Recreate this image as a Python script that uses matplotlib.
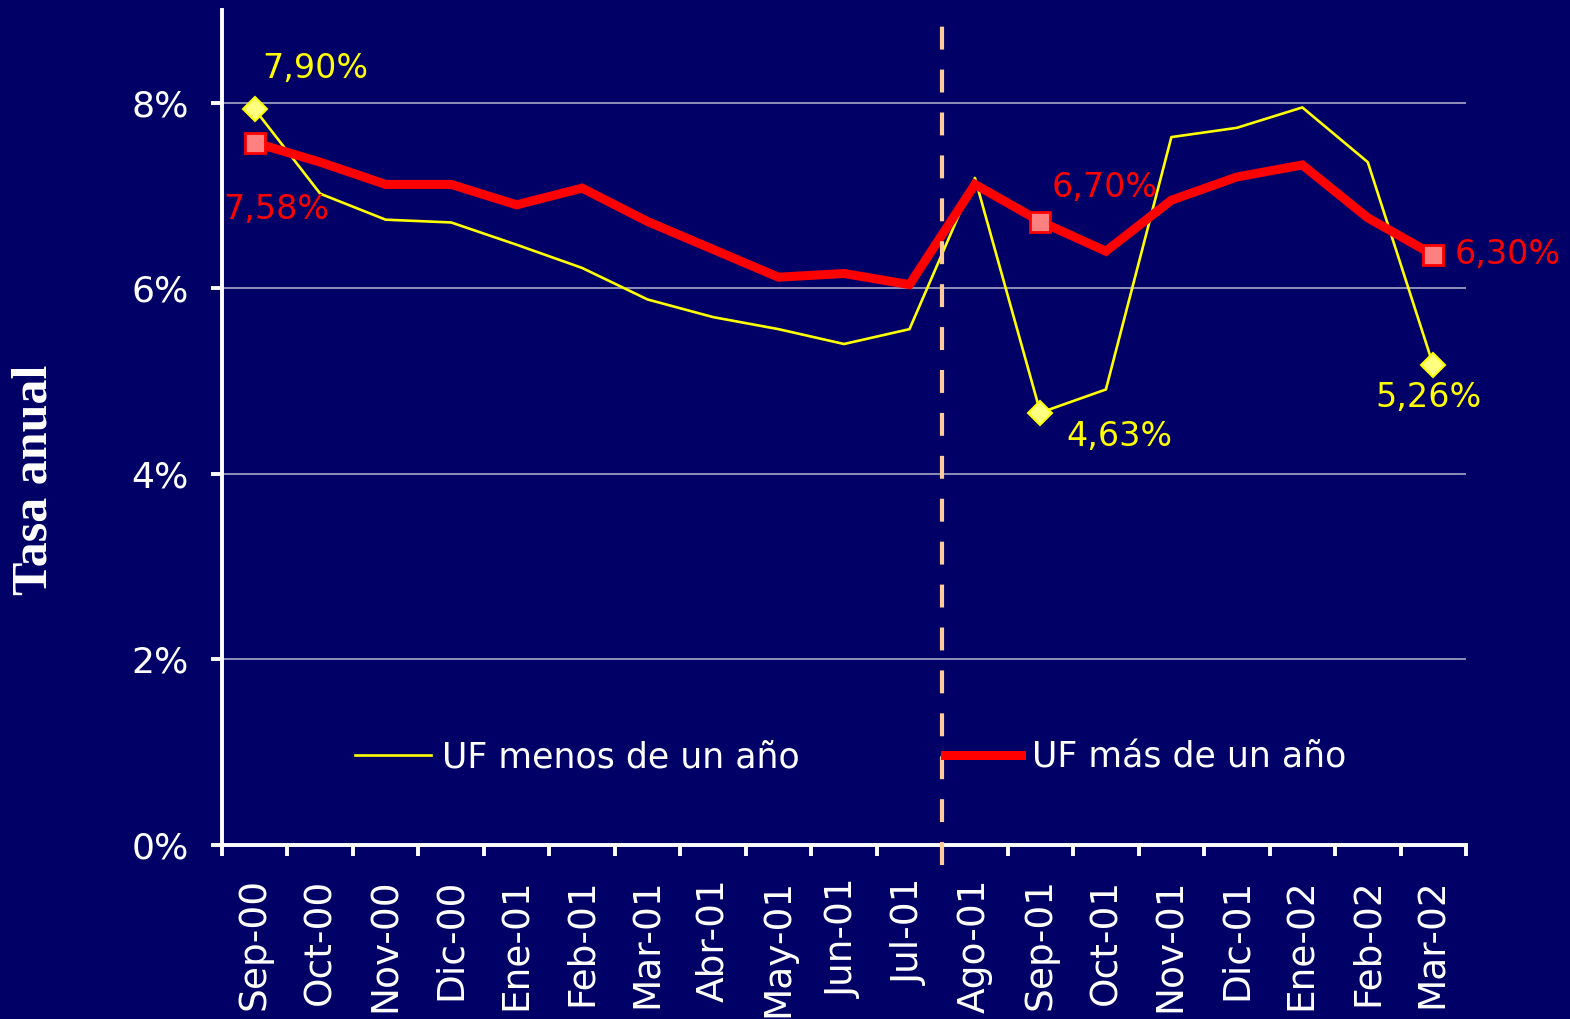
import matplotlib
matplotlib.use("Agg")
import matplotlib.pyplot as plt
from matplotlib.ticker import FixedLocator, NullFormatter
from matplotlib.lines import Line2D

categories = ["Sep-00", "Oct-00", "Nov-00", "Dic-00", "Ene-01", "Feb-01", "Mar-01",
              "Abr-01", "May-01", "Jun-01", "Jul-01", "Ago-01", "Sep-01", "Oct-01",
              "Nov-01", "Dic-01", "Ene-02", "Feb-02", "Mar-02"]
uf_menos = [7.93, 7.02, 6.74, 6.71, 6.47, 6.22, 5.88, 5.69, 5.56, 5.40, 5.56,
            7.19, 4.66, 4.91, 7.63, 7.73, 7.95, 7.36, 5.17]
uf_mas = [7.57, 7.36, 7.12, 7.12, 6.90, 7.08, 6.72, 6.42, 6.12, 6.16, 6.04,
          7.12, 6.72, 6.40, 6.95, 7.20, 7.33, 6.76, 6.36]
series_names = ["UF menos de un año", "UF más de un año"]
y_ticks = [0, 2, 4, 6, 8]
y_tick_labels = ["0%", "2%", "4%", "6%", "8%"]
marked_idx = [0, 12, 18]
menos_labels = ["7,90%", "4,63%", "5,26%"]
mas_labels = ["7,58%", "6,70%", "6,30%"]

BG = "#000066"
W, H = 1570, 1019
fig = plt.figure(figsize=(W / 100, H / 100), dpi=100, facecolor=BG)
ax = fig.add_axes([222 / W, 1 - 845 / H, (1466 - 222) / W, (845 - 10) / H])
ax.set_facecolor(BG)

x = list(range(len(categories)))
ax.set_xlim(-0.5, len(categories) - 0.5)
ax.set_ylim(0, 9)

# grid
for yv in y_ticks[1:]:
    ax.axhline(yv, color="#A8A8C8", lw=1.2, zorder=1)

# lines
ax.plot(x, uf_menos, color="#FFFF00", lw=1.9, zorder=3)
ax.plot(x, uf_mas, color="#FF0000", lw=6.5, zorder=4, solid_joinstyle="miter")

# markers
ax.plot([x[i] for i in marked_idx], [uf_menos[i] for i in marked_idx], ls="none",
        marker="D", ms=12, mfc="#FFFF80", mec="#FFFF00", mew=1.5, zorder=5)
ax.plot([x[i] for i in marked_idx], [uf_mas[i] for i in marked_idx], ls="none",
        marker="s", ms=15, mfc="#FF8080", mec="#FF0000", mew=2, zorder=6)

# dashed separator
ax.plot([10.5, 10.5], [-0.22, 8.9], color="#FFCC99", lw=3, dashes=(5.5, 4.8),
        clip_on=False, zorder=9)

# annotations
fs_ann = 24
menos_off = [(61, 41), (79, -24), (-5, -32)]
mas_off = [(22, -67), (64, 34), (74, 0)]
for k, i in enumerate(marked_idx):
    ax.annotate(menos_labels[k], (x[i], uf_menos[i]), xytext=menos_off[k],
                textcoords="offset pixels", color="#FFFF00", fontsize=fs_ann,
                ha="center", va="center", zorder=8)
    ax.annotate(mas_labels[k], (x[i], uf_mas[i]), xytext=mas_off[k],
                textcoords="offset pixels", color="#FF0000", fontsize=fs_ann,
                ha="center", va="center", zorder=8)

# spines
for s in ["top", "right"]:
    ax.spines[s].set_visible(False)
for s in ["left", "bottom"]:
    ax.spines[s].set_color("white")
    ax.spines[s].set_linewidth(2.8)

# ticks
ax.xaxis.set_major_locator(FixedLocator([i - 0.5 for i in range(len(categories) + 1)]))
ax.xaxis.set_major_formatter(NullFormatter())
ax.xaxis.set_minor_locator(FixedLocator(x))
ax.set_xticklabels(categories, minor=True, rotation=90, color="white", fontsize=27)
ax.tick_params(axis="x", which="major", length=8, width=2.8, color="white", direction="out")
ax.tick_params(axis="x", which="minor", length=0, pad=24)
ax.set_yticks(y_ticks)
ax.set_yticklabels(y_tick_labels, color="white", fontsize=26)
ax.tick_params(axis="y", length=8, width=2.8, color="white", direction="out", pad=16)

fig.text(35 / W, 1 - 480 / H, "Tasa anual", family="Liberation Serif",
         fontweight="bold", fontsize=36, color="white", rotation=90,
         ha="center", va="center")

# legend (two entries placed separately)
h1 = Line2D([], [], color="#FFFF00", lw=1.9)
h2 = Line2D([], [], color="#FF0000", lw=6.5)
leg1 = fig.legend([h1], [series_names[0]], loc="center left",
                  bbox_to_anchor=(355 / W, 1 - 757 / H), frameon=False,
                  fontsize=25, handlelength=2.2, handletextpad=0.3,
                  borderpad=0, borderaxespad=0)
leg2 = fig.legend([h2], [series_names[1]], loc="center left",
                  bbox_to_anchor=(945 / W, 1 - 757 / H), frameon=False,
                  fontsize=25, handlelength=2.2, handletextpad=0.3,
                  borderpad=0, borderaxespad=0)
for lg in (leg1, leg2):
    for t in lg.get_texts():
        t.set_color("white")

fig.savefig("out.png", dpi=100, facecolor=BG)
